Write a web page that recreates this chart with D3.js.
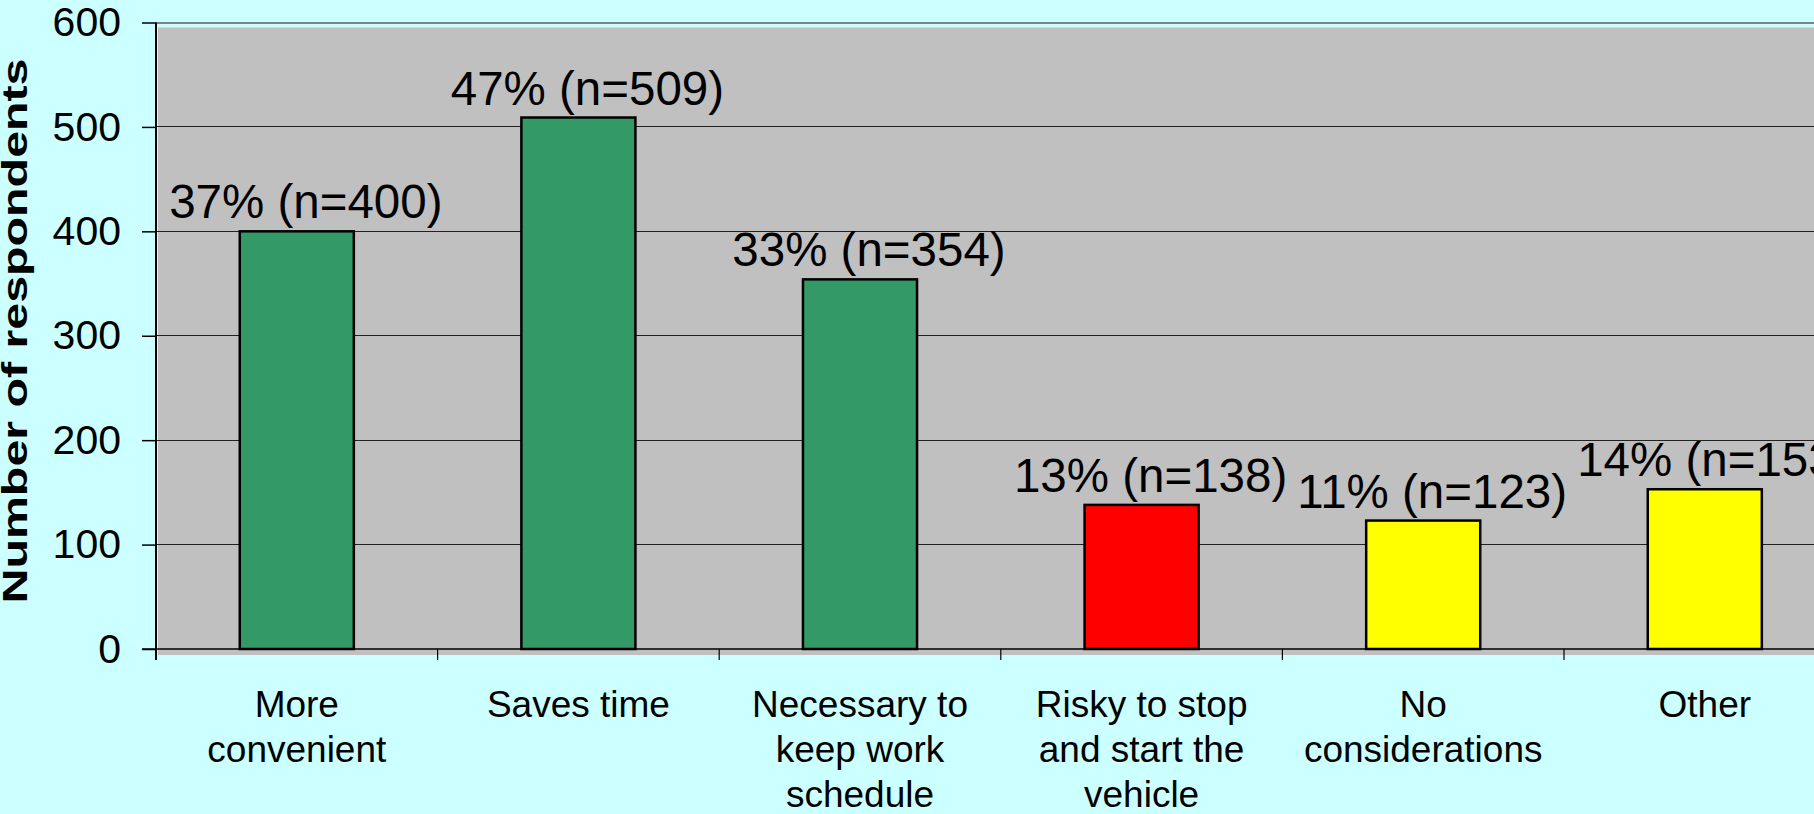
<!DOCTYPE html>
<html>
<head>
<meta charset="utf-8">
<script src="https://cdn.jsdelivr.net/npm/d3@7"></script>
<style>
  html, body { margin: 0; padding: 0; background: #CCFFFF; overflow: hidden; }
  svg { display: block; font-family: "Liberation Sans", Arial, sans-serif; }
</style>
</head>
<body>
<svg id="chart" width="1814" height="814"></svg>
<script>
// ---- data ----
const categories = ["More convenient", "Saves time", "Necessary to keep work schedule",
  "Risky to stop and start the vehicle", "No considerations", "Other"];
const categoryLines = [["More", "convenient"], ["Saves time"], ["Necessary to", "keep work", "schedule"],
  ["Risky to stop", "and start the", "vehicle"], ["No", "considerations"], ["Other"]];
const counts = [400, 509, 354, 138, 123, 153];
const percents = [37, 47, 33, 13, 11, 14];
const barColors = ["#339966", "#339966", "#339966", "#FF0000", "#FFFF00", "#FFFF00"];
const yTicks = [0, 100, 200, 300, 400, 500, 600];
const yTitle = "Number of respondents";

// ---- layout ----
const svg = d3.select("#chart");
const mLeft = 156, mRight = 156 + 6 * 281.6, mTop = 22.5, mBottom = 649;

const x = d3.scaleBand().domain(categories).range([mLeft, mRight]).paddingInner(0).paddingOuter(0);
const xBar = d3.scaleBand().domain(categories).range([mLeft, mRight]).paddingInner(0.595).paddingOuter(0.2975);
const y = d3.scaleLinear().domain([0, 600]).range([mBottom, mTop]);

// plot area background
svg.append("rect")
  .attr("x", mLeft + 2).attr("y", mTop + 5)
  .attr("width", 1814 - mLeft).attr("height", mBottom + 6 - mTop - 5)
  .attr("fill", "#C0C0C0");

// gridlines
svg.append("g").selectAll("line")
  .data(yTicks.filter(d => d > 0))
  .join("line")
  .attr("x1", mLeft).attr("x2", 1814)
  .attr("y1", d => y(d)).attr("y2", d => y(d))
  .attr("stroke", d => d === 600 ? "#808080" : "#222")
  .attr("stroke-width", d => d === 600 ? 2 : 1)
  .attr("shape-rendering", "crispEdges");

// bars
svg.append("g").selectAll("rect")
  .data(categories)
  .join("rect")
  .attr("x", d => xBar(d))
  .attr("width", xBar.bandwidth())
  .attr("y", (d, i) => y(counts[i]))
  .attr("height", (d, i) => y(0) - y(counts[i]))
  .attr("fill", (d, i) => barColors[i])
  .attr("stroke", "#000")
  .attr("stroke-width", 2.5);

// y axis
const yAxis = d3.axisLeft(y).tickValues(yTicks).tickSize(14).tickPadding(21).tickFormat(d3.format("d"));
const gy = svg.append("g").attr("transform", `translate(${mLeft},0)`).call(yAxis);
gy.select(".domain").remove();
gy.selectAll(".tick line").attr("stroke", "#000").attr("stroke-width", 1.5);
gy.selectAll(".tick text").attr("font-size", 41).attr("fill", "#000")
  .attr("font-family", "'Liberation Sans', Arial, sans-serif");
svg.append("line").attr("x1", mLeft).attr("x2", mLeft).attr("y1", mTop).attr("y2", mBottom + 11)
  .attr("stroke", "#000").attr("stroke-width", 2);

// x axis line + boundary ticks
svg.append("line").attr("x1", mLeft - 14).attr("x2", 1814).attr("y1", mBottom).attr("y2", mBottom)
  .attr("stroke", "#000").attr("stroke-width", 1.5);
svg.append("g").selectAll("line")
  .data(categories.slice(1))
  .join("line")
  .attr("x1", d => x(d)).attr("x2", d => x(d))
  .attr("y1", mBottom).attr("y2", mBottom + 11)
  .attr("stroke", "#000").attr("stroke-width", 1.2);

// category labels
const xAxis = d3.axisBottom(x).tickSize(0).tickFormat("");
const gx = svg.append("g").attr("transform", `translate(0,${mBottom})`).call(xAxis);
gx.select(".domain").remove();
gx.selectAll(".tick").each(function(d, i) {
  const t = d3.select(this).append("text")
    .attr("text-anchor", "middle")
    .attr("font-size", 37)
    .attr("fill", "#000")
    .attr("font-family", "'Liberation Sans', Arial, sans-serif");
  categoryLines[i].forEach((ln, j) => {
    t.append("tspan").attr("x", 0).attr("y", 68 + j * 45).text(ln);
  });
});

// data labels
svg.append("g").selectAll("text")
  .data(categories)
  .join("text")
  .attr("x", d => x(d) + x.bandwidth() / 2 + 9)
  .attr("y", (d, i) => y(counts[i]) - 13)
  .attr("text-anchor", "middle")
  .attr("font-size", 47.5)
  .attr("fill", "#000")
  .text((d, i) => `${percents[i]}% (n=${counts[i]})`);

// y title
svg.append("text")
  .attr("transform", "translate(27,331) rotate(-90)")
  .attr("text-anchor", "middle")
  .attr("font-size", 35)
  .attr("font-weight", "bold")
  .attr("fill", "#000")
  .attr("textLength", 545)
  .attr("lengthAdjust", "spacingAndGlyphs")
  .text(yTitle);
</script>
</body>
</html>
